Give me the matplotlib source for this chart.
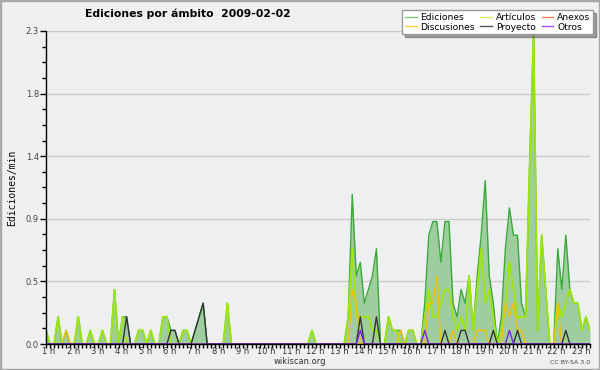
import matplotlib
matplotlib.use("Agg")
import matplotlib.pyplot as plt
import matplotlib.transforms as mtransforms
from matplotlib.lines import Line2D
from matplotlib.patches import Rectangle
from matplotlib.ticker import FixedLocator, FormatStrFormatter
import numpy as np

# edits per minute, one value per 10-minute bin (bin 0 = "1 h")
ediciones = [
    0.1, 0, 0, 0.2, 0, 0.1, 0, 0, 0.2, 0, 0, 0.1,
    0, 0, 0.1, 0, 0, 0.4, 0, 0.2, 0.2, 0, 0, 0.1,
    0.1, 0, 0.1, 0, 0, 0.2, 0.2, 0.1, 0.1, 0, 0.1, 0.1,
    0, 0.1, 0.2, 0.3, 0, 0, 0, 0, 0, 0.3, 0, 0,
    0, 0, 0, 0, 0, 0, 0, 0, 0, 0, 0, 0,
    0, 0, 0, 0, 0, 0, 0.1, 0, 0, 0, 0, 0,
    0, 0, 0, 0.2, 1.1, 0.5, 0.6, 0.3, 0.4, 0.5, 0.7, 0,
    0, 0.2, 0.1, 0.1, 0.1, 0, 0.1, 0.1, 0, 0, 0.3, 0.8,
    0.9, 0.9, 0.6, 0.9, 0.9, 0.3, 0.2, 0.4, 0.3, 0.5, 0.1, 0.5,
    0.8, 1.2, 0.5, 0.3, 0, 0.2, 0.7, 1.0, 0.8, 0.8, 0.3, 0.2,
    1.3, 2.3, 0.1, 0.8, 0.4, 0, 0, 0.7, 0.4, 0.8, 0.4, 0.3,
    0.3, 0.1, 0.2, 0.1,
]
articulos = [
    0.1, 0, 0, 0.2, 0, 0, 0, 0, 0.2, 0, 0, 0.1,
    0, 0, 0.1, 0, 0, 0.4, 0, 0.2, 0, 0, 0, 0.1,
    0.1, 0, 0.1, 0, 0, 0.2, 0.2, 0, 0, 0, 0.1, 0.1,
    0, 0, 0, 0, 0, 0, 0, 0, 0, 0.3, 0, 0,
    0, 0, 0, 0, 0, 0, 0, 0, 0, 0, 0, 0,
    0, 0, 0, 0, 0, 0, 0.1, 0, 0, 0, 0, 0,
    0, 0, 0, 0.2, 0.7, 0.2, 0.2, 0.2, 0.2, 0.1, 0.1, 0,
    0, 0.2, 0.1, 0.1, 0, 0, 0.1, 0.1, 0, 0, 0.2, 0.4,
    0.2, 0.2, 0.3, 0.4, 0.4, 0.2, 0.1, 0.2, 0.1, 0.5, 0.1, 0.4,
    0.7, 0.3, 0.4, 0.2, 0, 0.1, 0.3, 0.6, 0.4, 0.2, 0.2, 0.2,
    1.3, 2.3, 0.1, 0.8, 0.4, 0, 0, 0.3, 0.2, 0.3, 0.4, 0.3,
    0.3, 0.1, 0.2, 0.1,
]
discusiones = [
    0, 0, 0, 0, 0, 0.1, 0, 0, 0, 0, 0, 0,
    0, 0, 0, 0, 0, 0, 0, 0, 0, 0, 0, 0,
    0, 0, 0, 0, 0, 0, 0, 0, 0, 0, 0, 0,
    0, 0, 0, 0, 0, 0, 0, 0, 0, 0, 0, 0,
    0, 0, 0, 0, 0, 0, 0, 0, 0, 0, 0, 0,
    0, 0, 0, 0, 0, 0, 0, 0, 0, 0, 0, 0,
    0, 0, 0, 0, 0.4, 0.3, 0, 0, 0, 0, 0, 0,
    0, 0, 0, 0, 0.1, 0, 0, 0, 0, 0, 0, 0.3,
    0.3, 0.5, 0, 0, 0, 0.1, 0, 0, 0, 0, 0, 0.1,
    0.1, 0.1, 0, 0, 0, 0, 0.3, 0.2, 0.3, 0.1, 0.1, 0,
    0, 0, 0, 0, 0, 0, 0, 0.3, 0, 0, 0, 0,
    0, 0, 0, 0,
]
proyecto = [
    0, 0, 0, 0, 0, 0, 0, 0, 0, 0, 0, 0,
    0, 0, 0, 0, 0, 0, 0, 0, 0.2, 0, 0, 0,
    0, 0, 0, 0, 0, 0, 0, 0.1, 0.1, 0, 0, 0,
    0, 0.1, 0.2, 0.3, 0, 0, 0, 0, 0, 0, 0, 0,
    0, 0, 0, 0, 0, 0, 0, 0, 0, 0, 0, 0,
    0, 0, 0, 0, 0, 0, 0, 0, 0, 0, 0, 0,
    0, 0, 0, 0, 0, 0, 0.2, 0, 0, 0, 0.2, 0,
    0, 0, 0, 0, 0, 0, 0, 0, 0, 0, 0, 0,
    0, 0, 0, 0.1, 0, 0, 0, 0.1, 0.1, 0, 0, 0,
    0, 0, 0, 0.1, 0, 0, 0, 0, 0, 0.1, 0, 0,
    0, 0, 0, 0, 0, 0, 0, 0, 0, 0.1, 0, 0,
    0, 0, 0, 0,
]
otros = [0] * 136
otros[78] = 0.1
otros[94] = 0.1
otros[115] = 0.1
anexos = [0] * 136

hour_labels = [f"{h} h" for h in range(1, 24)]

bins = np.arange(len(ediciones))
hours = 1 + bins / 6

fig = plt.figure(figsize=(6, 3.7), dpi=100, facecolor='#f0f0f0')
fig.patches.append(Rectangle((0, 0), 1, 1, transform=fig.transFigure, fill=False,
                             edgecolor='#a8a8a8', lw=2.5))
ax = fig.add_axes([46 / 600, 26 / 370, 544 / 600, 313 / 370])
ax.set_facecolor('#eeeff1')

ax.fill_between(hours, ediciones, color='#a0cda0', lw=0, zorder=1)
ax.plot(hours, ediciones, color='#3aaa3a', lw=1.0, zorder=2)
ax.plot(hours, articulos, color='#9de60a', lw=1.3, zorder=3)
ax.plot(hours, discusiones, color='#f5c000', lw=1.0, zorder=3)
ax.plot(hours, anexos, color='#ff7f50', lw=1.0, zorder=3)
ax.plot(hours, proyecto, color='#333333', lw=1.0, zorder=4)
ax.plot(hours, otros, color='#7a22e8', lw=1.0, zorder=4)

ymax = max(ediciones)
ax.set_ylim(0, ymax)
ax.set_xlim(hours[0], hours[-1])
ax.yaxis.set_major_locator(FixedLocator(np.linspace(0, ymax, 6)))
ax.yaxis.set_minor_locator(FixedLocator(np.linspace(0, ymax, 21)))
ax.yaxis.set_major_formatter(FormatStrFormatter('%.1f'))
ax.grid(axis='y', which='major', color='#cccccc', lw=1)
ax.set_axisbelow(True)

ax.set_xticks(range(1, 24))
ax.set_xticklabels(hour_labels)
ax.xaxis.set_minor_locator(FixedLocator(hours))

for s in ['top', 'right']:
    ax.spines[s].set_visible(False)
for s in ['left', 'bottom']:
    ax.spines[s].set_color('black')
    ax.spines[s].set_linewidth(1)
    ax.spines[s].set_zorder(5)

ax.tick_params(axis='y', which='major', length=4, width=1, labelsize=6, labelcolor='#444444', pad=1)
ax.tick_params(axis='y', which='minor', length=3, width=1)
ax.tick_params(axis='x', which='both', length=3, width=1, labelsize=6, labelcolor='#333333', pad=-0.5)

offset = mtransforms.ScaledTranslation(0.03, 0, fig.dpi_scale_trans)
for lab in ax.get_xticklabels():
    lab.set_transform(lab.get_transform() + offset)

ax.set_ylabel('Ediciones/min', family='DejaVu Sans Mono', fontsize=7, labelpad=6)

fig.text(85 / 600, 1 - 14 / 370, 'Ediciones por ámbito  2009-02-02', fontsize=7.8,
         fontweight='bold', va='center', ha='left')
fig.text(0.5, 1 - 362 / 370, 'wikiscan.org', fontsize=6, color='#333333', ha='center', va='center')
fig.text(590 / 600, 1 - 362 / 370, 'CC BY-SA 3.0', fontsize=4.5, color='#444444', ha='right', va='center')

handles = [
    Line2D([], [], color='#7fc77f', lw=1),
    Line2D([], [], color='#ffd040', lw=1),
    Line2D([], [], color='#ccf060', lw=1),
    Line2D([], [], color='#555555', lw=1),
    Line2D([], [], color='#ff8050', lw=1),
    Line2D([], [], color='#9a50f0', lw=1),
]
labels = ['Ediciones', 'Discusiones', 'Artículos', 'Proyecto', 'Anexos', 'Otros']
fig.legend(handles, labels, ncol=3, loc='upper right', bbox_to_anchor=(593 / 600, 1 - 10 / 370),
           fontsize=6.6, frameon=True, fancybox=False, shadow=True, framealpha=1,
           edgecolor='#999999', borderpad=0.3, labelspacing=0.1, handlelength=1.3,
           handletextpad=0.4, columnspacing=0.6, borderaxespad=0)

fig.savefig('out.png', dpi=100, facecolor=fig.get_facecolor())
